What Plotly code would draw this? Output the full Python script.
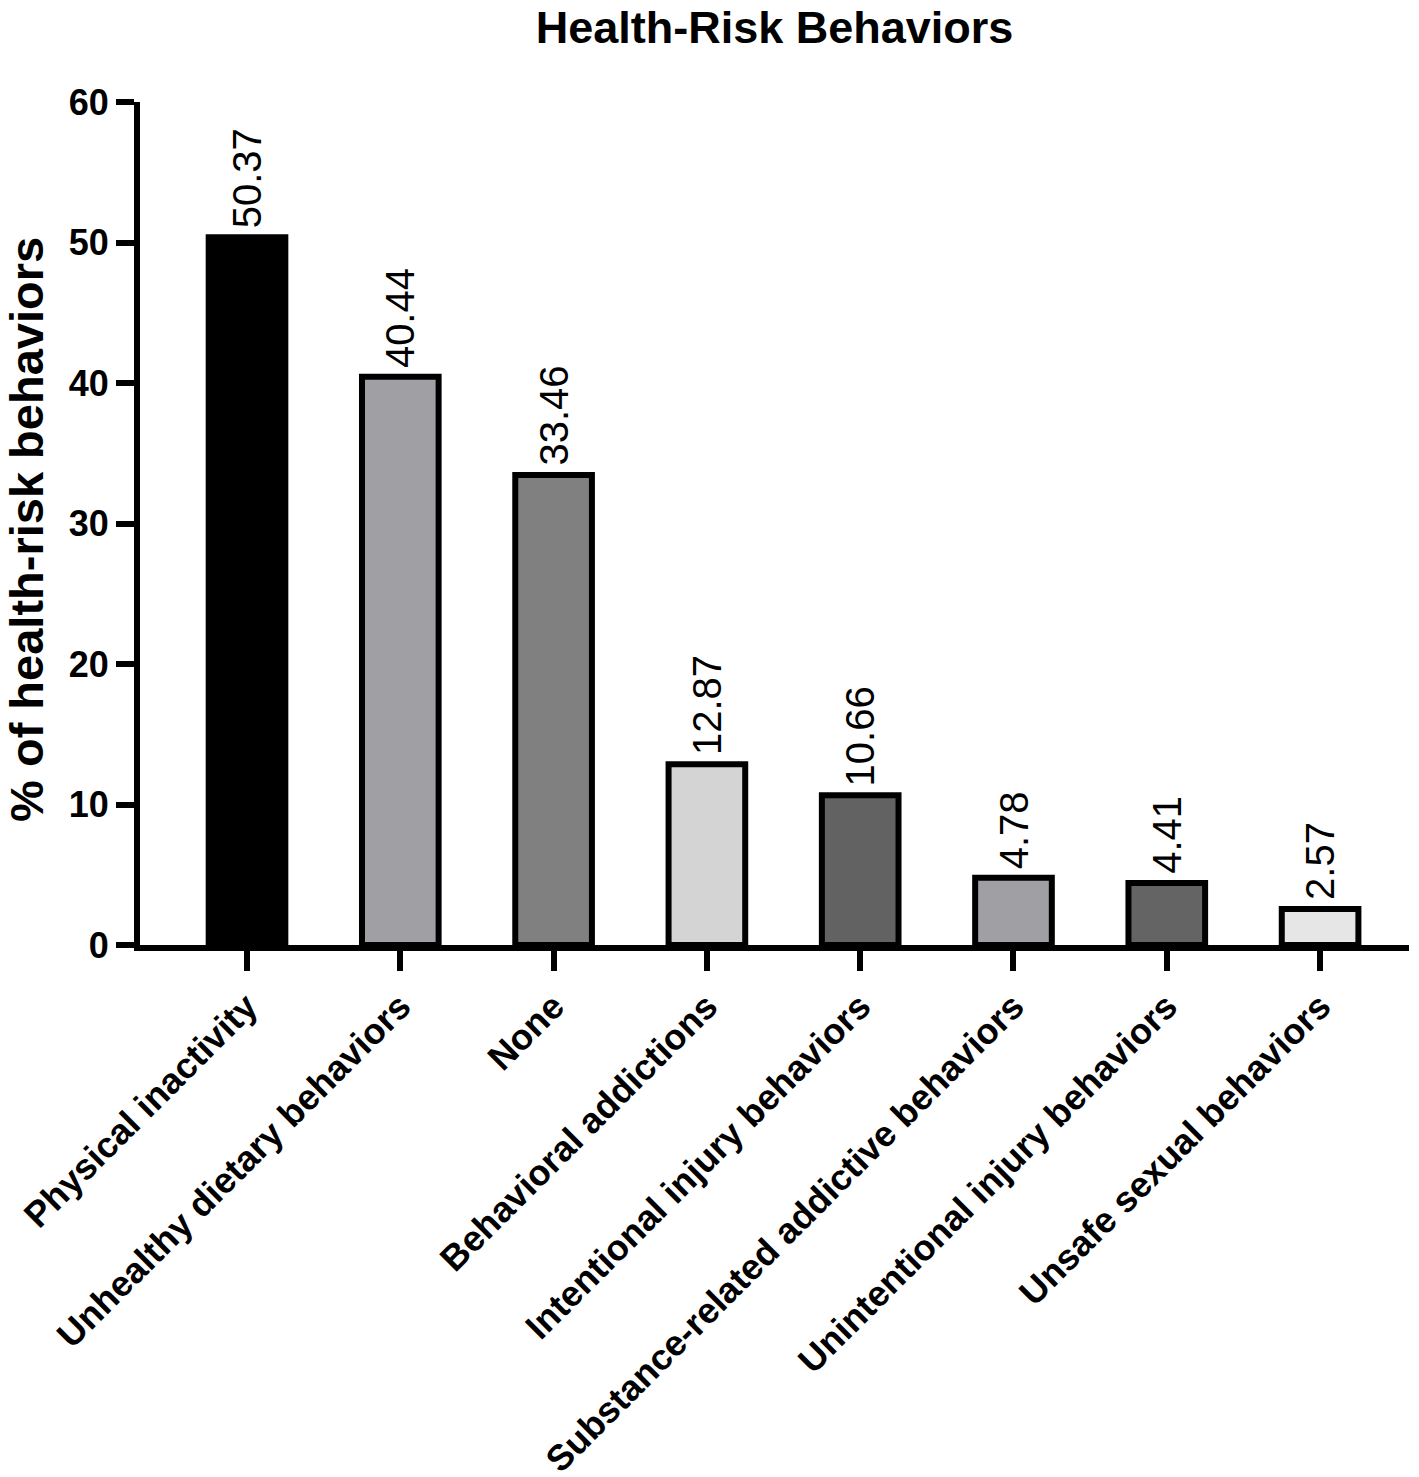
import plotly.graph_objects as go

# behaviours and their share (%)
categories = [
    "Physical inactivity",
    "Unhealthy dietary behaviors",
    "None",
    "Behavioral addictions",
    "Intentional injury behaviors",
    "Substance-related addictive behaviors",
    "Unintentional injury behaviors",
    "Unsafe sexual behaviors",
]
percent = [50.37, 40.44, 33.46, 12.87, 10.66, 4.78, 4.41, 2.57]
bar_colors = ["#000000", "#A0A0A4", "#808080", "#D4D4D4",
              "#626262", "#A0A0A4", "#646464", "#E6E6E6"]
y_ticks = [0, 10, 20, 30, 40, 50, 60]

FONT = "Liberation Sans, Arial, Helvetica, sans-serif"

# page body has an 8px margin, so the figure is 8px smaller each way
W, H = 1411, 1469

fig = go.Figure()
fig.add_trace(go.Bar(
    x=categories,
    y=percent,
    width=0.5,
    marker=dict(color=bar_colors, line=dict(color="black", width=6)),
))

# value labels above each bar, rotated
for cat, v in zip(categories, percent):
    fig.add_annotation(
        x=cat, y=v, text=f"{v:.2f}",
        xref="x", yref="y",
        xanchor="center", yanchor="bottom", yshift=7,
        textangle=-90, showarrow=False,
        font=dict(family=FONT, size=40, color="black"),
    )

fig.update_layout(
    width=W,
    height=H,
    margin=dict(l=132, r=10, t=94, b=532),
    paper_bgcolor="white",
    plot_bgcolor="white",
    showlegend=False,
    title=dict(
        text="Health-Risk Behaviors",
        font=dict(family=FONT, size=45, color="black", weight="bold"),
        x=0.5, xref="paper", xanchor="center",
        y=1 - 19 / H, yref="container", yanchor="middle",
    ),
    xaxis=dict(
        range=[-0.698, 7.58],
        automargin=False,
        showline=True, linecolor="black", linewidth=6,
        ticks="outside", ticklen=20, tickwidth=6, tickcolor="black",
        tickangle=-45,
        tickfont=dict(family=FONT, size=36, color="black", weight="bold"),
        showgrid=False, zeroline=False,
    ),
    yaxis=dict(
        range=[0, 60],
        automargin=False,
        tickvals=y_ticks,
        showline=True, linecolor="black", linewidth=6,
        ticks="outside", ticklen=18, tickwidth=6, tickcolor="black",
        tickfont=dict(family=FONT, size=36, color="black", weight="bold"),
        showgrid=False, zeroline=False,
    ),
)

fig.add_annotation(
    text="% of health-risk behaviors",
    xref="paper", yref="paper",
    x=(18.5 - 132) / 1269, y=0.493,
    xanchor="center", yanchor="middle",
    textangle=-90, showarrow=False,
    font=dict(family=FONT, size=47, color="black", weight="bold"),
)

fig.write_html("out.html")
